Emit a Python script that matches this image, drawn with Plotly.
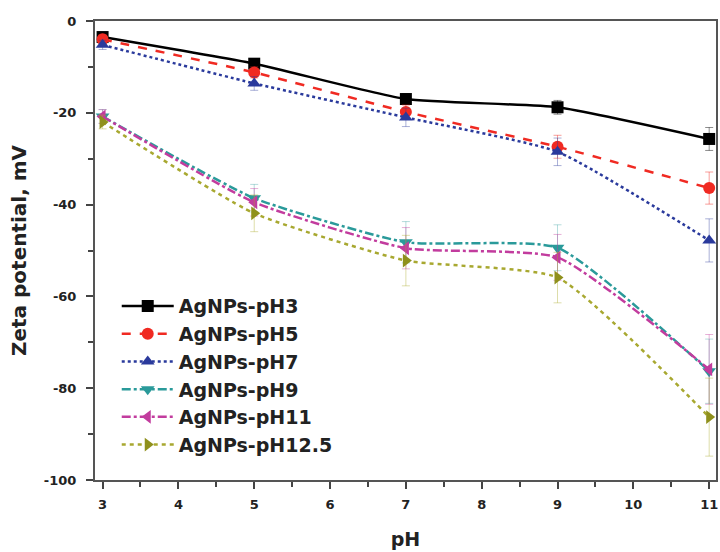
import plotly.graph_objects as go

ph = [3, 5, 7, 9, 11]
names = ["AgNPs-pH3", "AgNPs-pH5", "AgNPs-pH7", "AgNPs-pH9", "AgNPs-pH11", "AgNPs-pH12.5"]
zeta_ph3 = [-3.5, -9.3, -17.0, -18.8, -25.7]
zeta_ph5 = [-4.0, -11.2, -19.8, -27.4, -36.4]
zeta_ph7 = [-5.2, -13.6, -21.0, -28.5, -47.8]
zeta_ph9 = [-20.8, -38.6, -48.2, -49.4, -76.3]
zeta_ph11 = [-20.8, -39.5, -49.5, -51.5, -75.9]
zeta_ph125 = [-22.0, -41.9, -52.2, -55.9, -86.3]
err_ph3 = [0.8, 1.0, 1.2, 1.5, 2.5]
err_ph5 = [1.0, 1.2, 1.5, 2.5, 3.5]
err_ph7 = [1.0, 1.5, 2.0, 3.0, 4.7]
err_ph9 = [1.5, 3.0, 4.5, 5.0, 7.0]
err_ph11 = [1.5, 3.0, 4.5, 5.0, 7.6]
err_ph125 = [1.5, 4.0, 5.5, 5.5, 8.5]
y_tick_vals = [0, -20, -40, -60, -80, -100]
y_tick_labels = ["0", "-20", "-40", "-60", "-80", "-100"]

series = [zeta_ph3, zeta_ph5, zeta_ph7, zeta_ph9, zeta_ph11, zeta_ph125]
errors = [err_ph3, err_ph5, err_ph7, err_ph9, err_ph11, err_ph125]
colors = ["#000000", "#f02a22", "#2a3a9c", "#2a9a9a", "#c23c9e", "#8f901c"]
line_colors = ["#000000", "#f02a22", "#2a3a9c", "#2a9a9a", "#c23c9e", "#a8a830"]
err_colors = ["rgba(0,0,0,0.45)", "rgba(240,42,34,0.45)", "rgba(42,58,156,0.4)",
              "rgba(42,154,154,0.35)", "rgba(194,60,158,0.4)", "rgba(170,170,40,0.4)"]
dashes = ["solid", "dash", "dot", "dashdot", "dashdot", "4px,4px"]
symbols = ["square", "circle", "triangle-up", "triangle-down", "triangle-left", "triangle-right"]

fig = go.Figure()
for i in range(6):
    fig.add_trace(go.Scatter(
        x=ph, y=series[i], name=names[i], mode="lines+markers",
        line=dict(color=line_colors[i], width=2.5, dash=dashes[i], shape="spline", smoothing=0.5),
        marker=dict(color=colors[i], symbol=symbols[i], size=12),
        error_y=dict(type="data", array=errors[i], color=err_colors[i], thickness=1, width=4),
        legendgroup=names[i],
    ))

font_family = "DejaVu Sans, Liberation Sans, Arial, sans-serif"
fig.update_layout(
    width=720, height=552,
    margin=dict(l=95, r=2, t=21, b=72),
    paper_bgcolor="white", plot_bgcolor="white",
    font=dict(family=font_family, color="#222"),
    showlegend=True,
    legend=dict(x=0.035, y=0.42, xanchor="left", yanchor="top",
                bgcolor="rgba(0,0,0,0)", itemwidth=52, tracegroupgap=7,
                traceorder="normal",
                font=dict(family=font_family, size=19, color="#222", weight="bold")),
    xaxis=dict(range=[2.9, 11.09], tickmode="linear", tick0=3, dtick=1,
               ticks="outside", ticklen=7, tickwidth=2, tickcolor="#444",
               minor=dict(dtick=0.5, ticks="outside", ticklen=5, tickwidth=2, tickcolor="#444"),
               showline=True, linewidth=2, linecolor="#555", mirror=True,
               showgrid=False, zeroline=False, ticklabelstandoff=4,
               tickfont=dict(size=13, weight="bold", color="#222"),
               title=dict(text="pH", font=dict(size=19, weight="bold", color="#222"), standoff=22)),
    yaxis=dict(range=[-100, 0], tickmode="array", tickvals=y_tick_vals, ticktext=y_tick_labels,
               ticks="outside", ticklen=7, tickwidth=2, tickcolor="#444",
               minor=dict(dtick=10, tick0=0, ticks="outside", ticklen=5, tickwidth=2, tickcolor="#444"),
               showline=True, linewidth=2, linecolor="#555", mirror=True,
               showgrid=False, zeroline=False, ticklabelstandoff=7,
               tickfont=dict(size=13, weight="bold", color="#222"),
               title=dict(text="Zeta potential, mV", font=dict(size=20, weight="bold", color="#222"), standoff=12)),
)

fig.write_html("out.html", config={"displayModeBar": False})
with open("out.html", "r", encoding="utf-8") as f:
    html = f.read()
html = html.replace("<head>", "<head><style>html,body{margin:0;padding:0;overflow:hidden;}</style>", 1)
with open("out.html", "w", encoding="utf-8") as f:
    f.write(html)
